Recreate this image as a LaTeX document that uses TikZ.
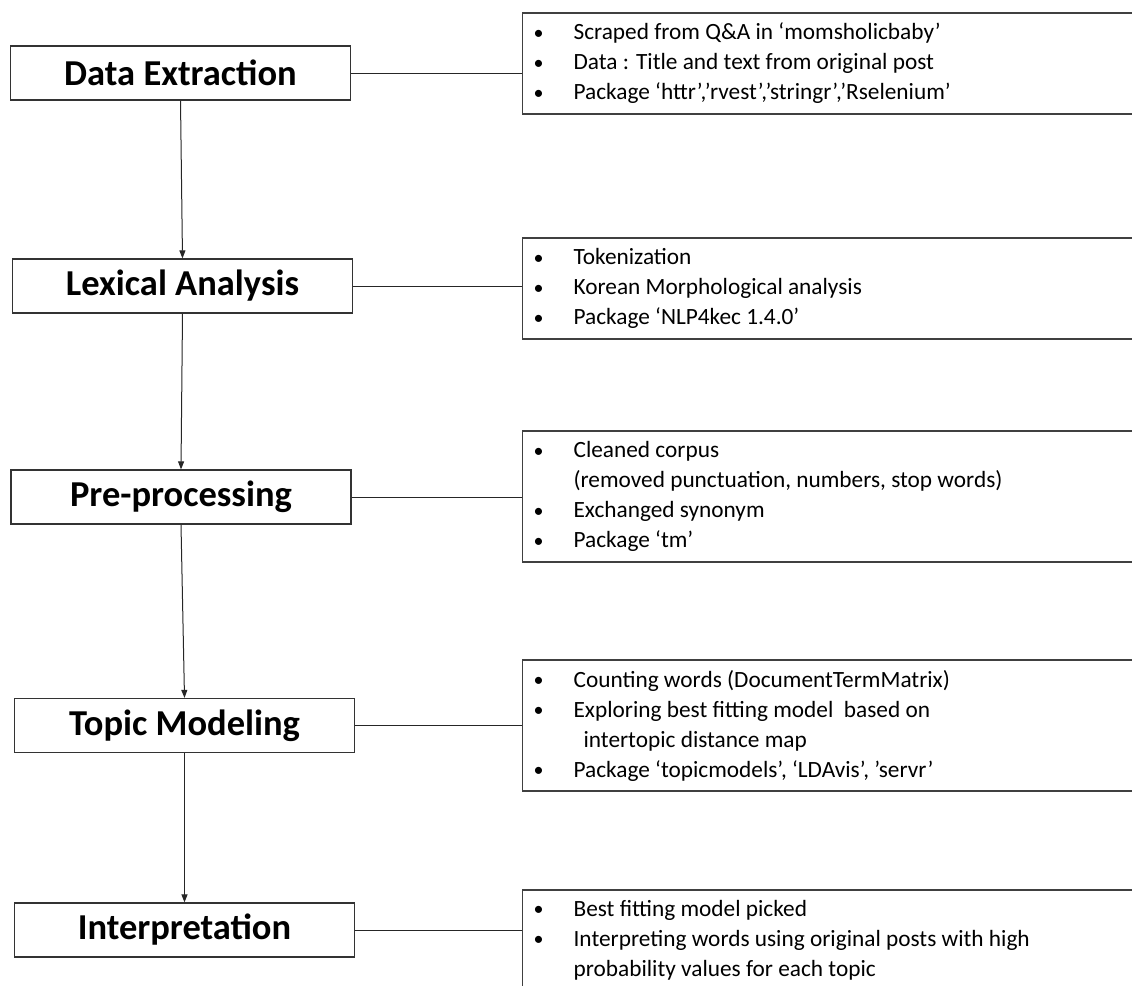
\documentclass[tikz,border=0pt]{standalone}
\usepackage{fontspec}
\setmainfont{Carlito}
\usetikzlibrary{arrows.meta}
\newcommand\itm{\makebox[40pt][l]{\raisebox{0.5pt}{\fontsize{20}{20}\selectfont\textbullet}}}

\begin{document}
\begin{tikzpicture}[x=1pt,y=-1pt,
		stepbox/.style={draw=black!80, line width=1.2pt, minimum width=340pt, minimum height=54pt, inner sep=0pt, font=\fontsize{36.5}{40}\selectfont\bfseries},
		infobox/.style={draw=black!75, line width=1.2pt, anchor=west, text width=660pt, inner xsep=11pt, inner ysep=0pt, align=flush left, font=\fontsize{23.3}{30}\selectfont},
		link/.style={line width=1pt, draw=black!85},
		flow/.style={link, -{Triangle[length=8pt,width=6pt]}}]
		\clip (0,0) rectangle (1132,985);
		% steps
		\node[stepbox] (ext) at (180.5,73) {Data Extraction};
		\node[stepbox] (lex) at (182.5,286) {Lexical Analysis};
		\node[stepbox] (pre) at (181,497) {Pre-processing};
		\node[stepbox] (topic) at (184.5,725.5) {Topic Modeling};
		\node[stepbox] (interp) at (184.5,930) {Interpretation};

		% notes
		\node[infobox, minimum height=101pt] (extnote) at (522,63.5) {\itm Scraped from Q\&A in ‘momsholicbaby’\\ \itm Data : Title and text from original post\\ \itm Package ‘httr’,’rvest’,’stringr’,’Rselenium’};
		\node[infobox, minimum height=101pt] (lexnote) at (522,288.5) {\itm Tokenization\\ \itm Korean Morphological analysis\\ \itm Package ‘NLP4kec 1.4.0’};
		\node[infobox, minimum height=131pt] (prenote) at (522,496.5) {\itm Cleaned corpus\\ \hspace*{40pt}(removed punctuation, numbers, stop words)\\ \itm Exchanged synonym\\ \itm Package ‘tm’};
		\node[infobox, minimum height=131pt] (topicnote) at (522,725.5) {\itm Counting words (DocumentTermMatrix)\\ \itm Exploring best fitting model\ \ based on\\ \hspace*{50pt}intertopic distance map\\ \itm Package ‘topicmodels’, ‘LDAvis’, ’servr’};
		\node[infobox, minimum height=100pt] (interpnote) at (522,940) {\itm Best fitting model picked\\ \itm Interpreting words using original posts with high\\ \hspace*{40pt}probability values for each topic};

		\draw[flow] (ext.south) -- (lex.north);
		\draw[flow] (lex.south) -- (pre.north);
		\draw[flow] (pre.south) -- (topic.north);
		\draw[flow] (topic.south) -- (interp.north);

		\draw[link] (ext.east) -- (ext.east -| extnote.west);
		\draw[link] (lex.east) -- (lex.east -| lexnote.west);
		\draw[link] (pre.east) -- (pre.east -| prenote.west);
		\draw[link] (topic.east) -- (topic.east -| topicnote.west);
		\draw[link] (interp.east) -- (interp.east -| interpnote.west);
	\end{tikzpicture}
\end{document}
